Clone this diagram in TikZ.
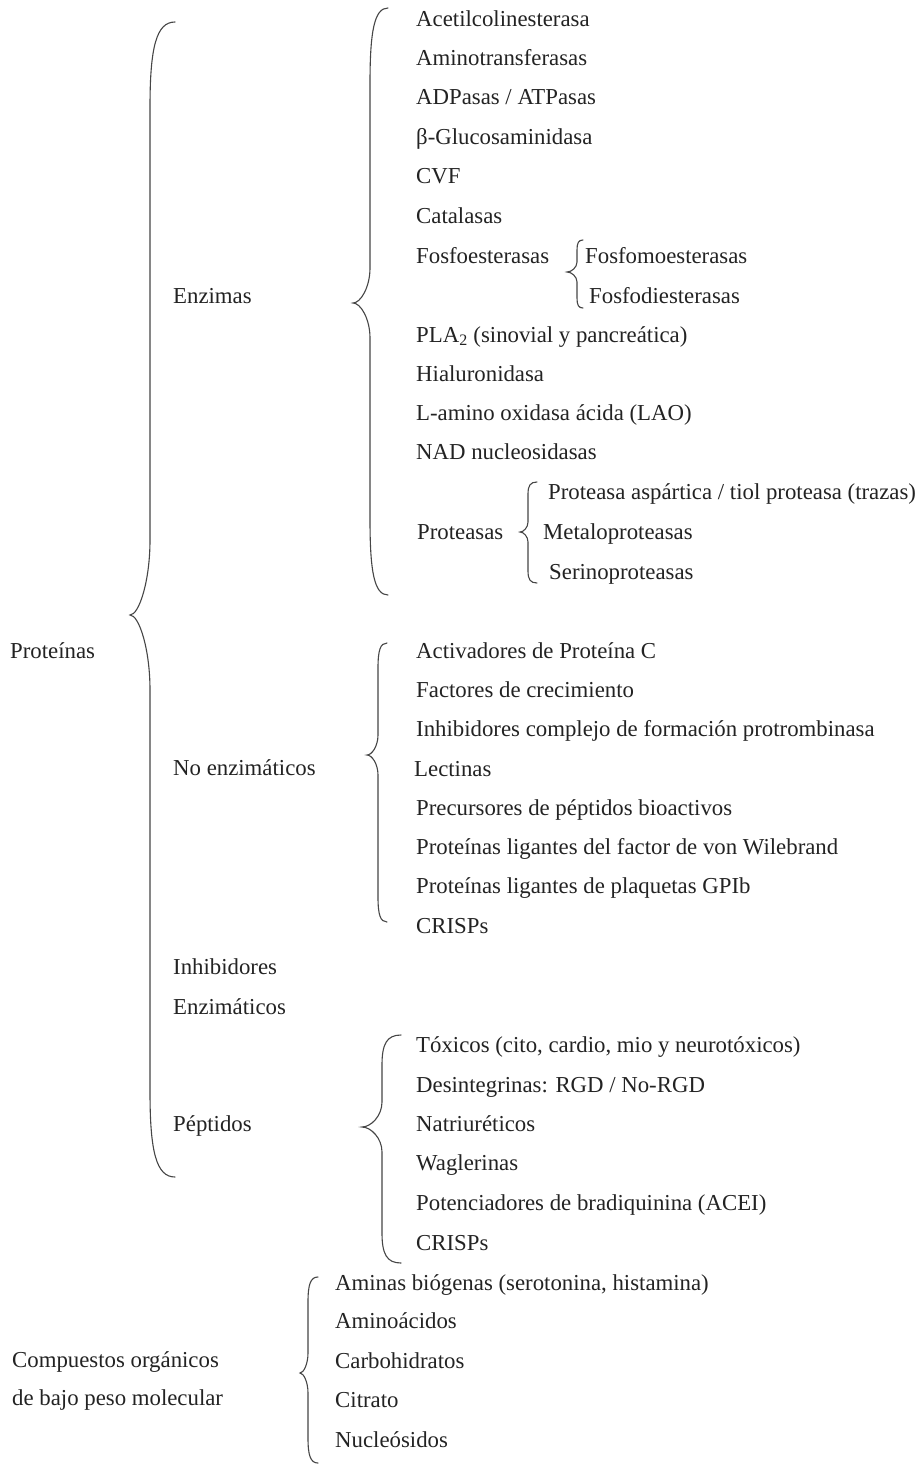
\documentclass[tikz,border=0pt]{standalone}
\usepackage{fontspec}
\setmainfont{Liberation Serif}
\definecolor{ink}{RGB}{35,35,35}
\definecolor{bracecol}{RGB}{70,70,70}
% xe xl xt yt ytip yb a b
\newcommand\cbrace[8]{%
 \draw[bracestyle] (#1,#4) .. controls ({#2+0.25*(#1-#2)},#4) and (#2,{#4+0.3*#7}) .. (#2,{#4+#7})
   -- (#2,{#5-#8}) .. controls (#2,{#5-0.45*#8}) and ({#3+0.45*(#2-#3)},#5) .. (#3,#5)
   .. controls ({#3+0.45*(#2-#3)},#5) and (#2,{#5+0.45*#8}) .. (#2,{#5+#8})
   -- (#2,{#6-#7}) .. controls (#2,{#6-0.3*#7}) and ({#2+0.25*(#1-#2)},#6) .. (#1,#6);}
\begin{document}
\begin{tikzpicture}[x=1pt,y=-1pt,
  lbl/.style={anchor=base west,inner sep=0pt,text=ink,font=\fontsize{22.8}{27}\selectfont},
  bracestyle/.style={draw=bracecol,line width=1.1pt,line cap=round}]
\useasboundingbox[fill=white] (0,0) rectangle (921,1466);
% main labels
\node[lbl] (prot) at (10,658) {Proteínas};
\node[lbl] (enz) at (173,303) {Enzimas};
\node[lbl] (noenz) at (173,775) {No enzimáticos};
\node[lbl] (inh1) at (173,974) {Inhibidores};
\node[lbl] (inh2) at (173,1014) {Enzimáticos};
\node[lbl] (pep) at (173,1131) {Péptidos};
\node[lbl] (comp1) at (12,1367) {Compuestos orgánicos};
\node[lbl] (comp2) at (12,1405) {de bajo peso molecular};
% Enzimas
\node[lbl] (e1) at (416,27) {Acetilcolinesterasa};
\node[lbl] (e2) at (416,66) {Aminotransferasas};
\node[lbl] (e3) at (416,105) {ADPasas / ATPasas};
\node[lbl] (e4) at (416,145) {β-Glucosaminidasa};
\node[lbl] (e5) at (416,184) {CVF};
\node[lbl] (e6) at (416,223) {Catalasas};
\node[lbl] (e7) at (416,263) {Fosfoesterasas};
\node[lbl] (e7a) at (585,263) {Fosfomoesterasas};
\node[lbl] (e7b) at (589,303) {Fosfodiesterasas};
\node[lbl] (e8) at (416,342) {PLA\textsubscript{2} (sinovial y pancreática)};
\node[lbl] (e9) at (416,381) {Hialuronidasa};
\node[lbl] (e10) at (416,420) {L-amino oxidasa ácida (LAO)};
\node[lbl] (e11) at (416,459) {NAD nucleosidasas};
\node[lbl] (e12a) at (548,499) {Proteasa aspártica / tiol proteasa (trazas)};
\node[lbl] (e12) at (417,539) {Proteasas};
\node[lbl] (e12b) at (543,539) {Metaloproteasas};
\node[lbl] (e12c) at (549,579) {Serinoproteasas};
% No enzimaticos
\node[lbl] (n1) at (416,658) {Activadores de Proteína C};
\node[lbl] (n2) at (416,697) {Factores de crecimiento};
\node[lbl] (n3) at (416,736) {Inhibidores complejo de formación protrombinasa};
\node[lbl] (n4) at (414,776) {Lectinas};
\node[lbl] (n5) at (416,815) {Precursores de péptidos bioactivos};
\node[lbl] (n6) at (416,854) {Proteínas ligantes del factor de von Wilebrand};
\node[lbl] (n7) at (416,893) {Proteínas ligantes de plaquetas GPIb};
\node[lbl] (n8) at (416,933) {CRISPs};
% Peptidos
\node[lbl] (p1) at (416,1052) {Tóxicos (cito, cardio, mio y neurotóxicos)};
\node[lbl] (p2) at (416,1092) {Desintegrinas: RGD / No-RGD};
\node[lbl] (p3) at (416,1131) {Natriuréticos};
\node[lbl] (p4) at (416,1170) {Waglerinas};
\node[lbl] (p5) at (416,1210) {Potenciadores de bradiquinina (ACEI)};
\node[lbl] (p6) at (416,1250) {CRISPs};
% Compuestos
\node[lbl] (c1) at (335,1290) {Aminas biógenas (serotonina, histamina)};
\node[lbl] (c2) at (335,1328) {Aminoácidos};
\node[lbl] (c3) at (335,1368) {Carbohidratos};
\node[lbl] (c4) at (335,1407) {Citrato};
\node[lbl] (c5) at (335,1447) {Nucleósidos};
% braces
\cbrace{175}{150}{130}{22}{615}{1177}{85}{75}
\cbrace{388}{370}{353}{8}{303}{595}{75}{35}
\cbrace{583}{577}{567}{240}{272}{308}{10}{10}
\cbrace{537}{528}{520}{482}{532}{583}{12}{10}
\cbrace{387}{378}{367}{643}{755}{922}{25}{20}
\cbrace{401}{382}{362}{1035}{1127}{1263}{30}{25}
\cbrace{318}{308}{300}{1277}{1373}{1463}{25}{20}
\end{tikzpicture}
\end{document}
